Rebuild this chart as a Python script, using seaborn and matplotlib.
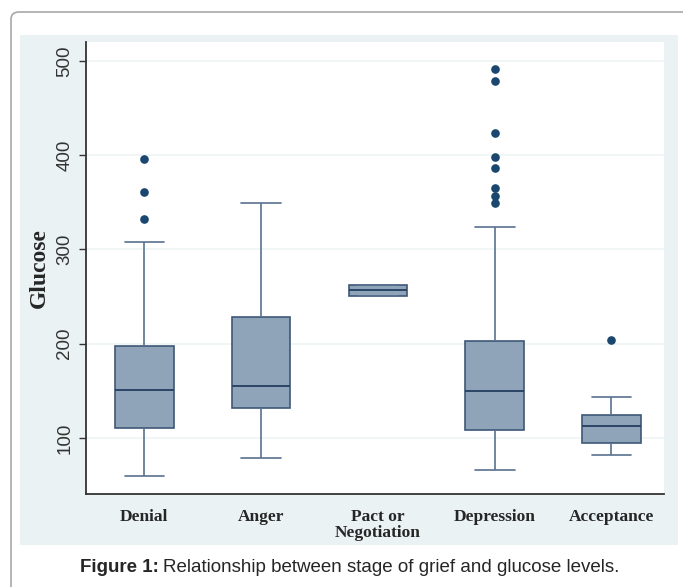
import numpy as np
import pandas as pd
import matplotlib.pyplot as plt
import seaborn as sns
from matplotlib.patches import FancyBboxPatch, Rectangle

# values (glucose, mg/dL)
stages = ['Denial', 'Anger', 'Pact or\nNegotiation', 'Depression', 'Acceptance']
lower_whisker = [60, 79, 251, 66, 82]
q1 = [111, 132, 251, 109, 95]
median = [151, 155, 257, 150, 113]
q3 = [198, 228, 262, 203, 124]
upper_whisker = [308, 349, 262, 324, 144]
outliers = [[332, 361, 396], [], [], [349, 357, 365, 386, 398, 424, 479, 491], [204]]
yticks = [100, 200, 300, 400, 500]

# rebuild a long table whose quartiles/whiskers match the summary above
rows = []
for i, s in enumerate(stages):
    vals = [lower_whisker[i]] + [q1[i]] * 20 + [median[i]] * 20 + [q3[i]] * 20 + [upper_whisker[i]] + outliers[i]
    rows += [(s, v) for v in vals]
df = pd.DataFrame(rows, columns=['stage', 'glucose'])

sns.set_style('white')
fig = plt.figure(figsize=(6.83, 5.87), dpi=100)

# outer frame + light panel
fig.patches.append(FancyBboxPatch((11 / 683, -0.05), 1.0, 1.0 - 12 / 587 + 0.05,
                                  boxstyle='round,pad=0,rounding_size=0.012',
                                  transform=fig.transFigure, facecolor='white',
                                  edgecolor='#a8a8a8', linewidth=1.2, zorder=-2))
fig.patches.append(Rectangle((20 / 683, 1 - 545 / 587), 658 / 683, 510 / 587,
                             transform=fig.transFigure, facecolor='#eaf2f3',
                             edgecolor='none', zorder=-1))

ax = fig.add_axes([86 / 683, 1 - 494 / 587, 578 / 683, 452 / 587])
ax.set_facecolor('white')

navy = '#1a476f'
sns.boxplot(data=df, x='stage', y='glucose', order=stages, ax=ax,
            color='#8fa3b9', saturation=1, width=0.5, linecolor='#3d5878',
            linewidth=1.2, fliersize=5.2, capwidths=0.34,
            flierprops=dict(marker='o', markerfacecolor=navy, markeredgecolor=navy),
            medianprops=dict(color='#2a4565', linewidth=1.4),
            whiskerprops=dict(color='#5a7190'), capprops=dict(color='#5a7190'))

ax.set_ylim(40.6, 520)
ax.set_xlim(-0.5, 4.45)
ax.set_yticks(yticks)
ax.set_yticklabels([str(t) for t in yticks], rotation=90, va='center',
                   fontsize=13.5, family='Liberation Sans', color='#333333')
ax.yaxis.grid(True, color='#eef3f4', linewidth=1.2)
ax.set_axisbelow(True)
ax.tick_params(axis='y', left=True, length=5, width=1, color='#333333', pad=4)
ax.tick_params(axis='x', bottom=False, pad=7)
ax.set_xticks(range(len(stages)))
ax.set_xticklabels(stages, fontsize=12.5, fontweight='bold', family='Liberation Serif',
                   linespacing=1.05, va='top')
ax.set_xlabel('')
ax.set_ylabel('Glucose', fontsize=17, fontweight='bold', family='Liberation Serif', labelpad=5)

for side in ['top', 'right']:
    ax.spines[side].set_visible(False)
for side in ['left', 'bottom']:
    ax.spines[side].set_color('#333333')
    ax.spines[side].set_linewidth(1.3)

fig.text(80 / 683, 1 - 567 / 587, 'Figure 1:', fontsize=13.5, fontweight='bold',
         family='Liberation Sans', va='center', ha='left')
fig.text(163 / 683, 1 - 567 / 587, 'Relationship between stage of grief and glucose levels.',
         fontsize=13.5, family='Liberation Sans', va='center', ha='left')

fig.savefig('out.png', dpi=100)
